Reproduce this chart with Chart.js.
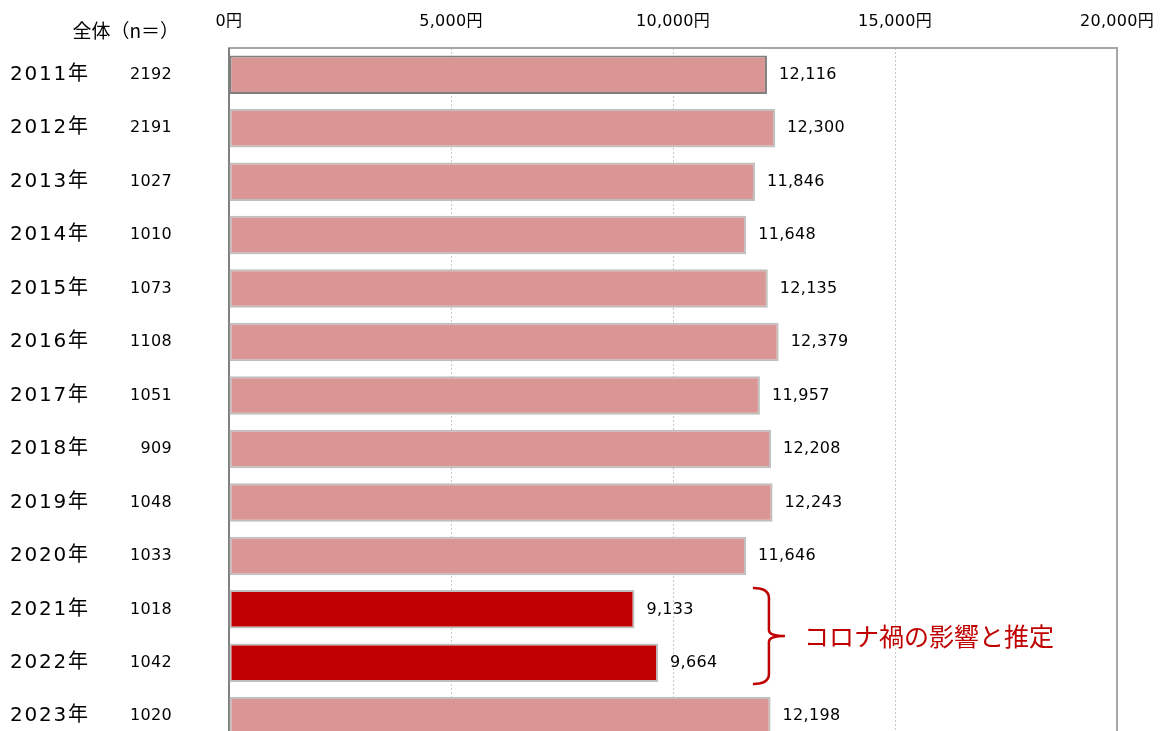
<!DOCTYPE html>
<html lang="ja">
<head>
<meta charset="utf-8">
<script src="https://cdn.jsdelivr.net/npm/chart.js@4/dist/chart.umd.min.js"></script>
<style>
  html, body { margin: 0; padding: 0; background: #fff; overflow: hidden; }
  #wrap { width: 1170px; height: 760px; }
</style>
</head>
<body>
<div id="wrap"><canvas id="chart" width="1170" height="760"></canvas></div>
<script>
const years = ["2011年","2012年","2013年","2014年","2015年","2016年","2017年","2018年","2019年","2020年","2021年","2022年","2023年"];
const counts = [2192, 2191, 1027, 1010, 1073, 1108, 1051, 909, 1048, 1033, 1018, 1042, 1020];
const amounts = [12116, 12300, 11846, 11648, 12135, 12379, 11957, 12208, 12243, 11646, 9133, 9664, 12198];
const covidYears = ["2021年", "2022年"];
const headerText = "全体（n＝）";
const noteText = "コロナ禍の影響と推定";

const FONT = "'DejaVu Sans', 'Noto Sans CJK JP', sans-serif";
const JP = "'Noto Sans CJK JP', sans-serif";
const PINK = "#d99694";
const RED = "#c00000";

const fills = years.map(y => covidYears.includes(y) ? RED : PINK);
const borders = years.map((y, i) => i === 0 ? "#7f7f7f" : "#bfbfbf");

const frame = {
  id: "frame",
  beforeDraw(chart) {
    // slightly wider digit spacing, as in the original
    chart.ctx.letterSpacing = "0.3px";
  },
  beforeDatasetsDraw(chart) {
    const { ctx, chartArea: a } = chart;
    ctx.save();
    ctx.strokeStyle = "#a6a6a6";
    ctx.lineWidth = 2;
    ctx.beginPath();
    ctx.moveTo(a.left, a.bottom);
    ctx.lineTo(a.left, a.top);
    ctx.lineTo(a.right, a.top);
    ctx.lineTo(a.right, a.bottom);
    ctx.stroke();
    ctx.strokeStyle = "#7f7f7f";
    ctx.beginPath();
    ctx.moveTo(a.left, a.top);
    ctx.lineTo(a.left, a.bottom);
    ctx.stroke();
    ctx.restore();
  }
};

const labels = {
  id: "labels",
  afterDatasetsDraw(chart) {
    const { ctx } = chart;
    const bars = chart.getDatasetMeta(0).data;
    ctx.save();
    ctx.fillStyle = "#000";
    ctx.textBaseline = "middle";

    // header
    ctx.letterSpacing = "0px";
    ctx.font = "19px " + JP;
    ctx.textAlign = "right";
    ctx.fillText(headerText, 179, 31);

    bars.forEach((bar, i) => {
      ctx.font = "20px " + FONT;
      ctx.letterSpacing = "1.8px";
      ctx.textAlign = "left";
      ctx.fillText(years[i], 10, bar.y);
      ctx.font = "16px " + FONT;
      ctx.letterSpacing = "0.3px";
      ctx.textAlign = "right";
      ctx.fillText(String(counts[i]), 172, bar.y);
      ctx.textAlign = "left";
      ctx.fillText(amounts[i].toLocaleString("en-US"), bar.x + 12, bar.y);
    });

    // bracket + note for covid years
    const i0 = years.indexOf(covidYears[0]);
    const i1 = years.indexOf(covidYears[covidYears.length - 1]);
    const b0 = bars[i0], b1 = bars[i1];
    const top = b0.y - b0.height / 2 - 2;
    const bot = b1.y + b1.height / 2 + 2;
    const mid = (top + bot) / 2;
    const x0 = chart.scales.x.getPixelForValue(11800);
    const xv = x0 + 16;
    ctx.strokeStyle = RED;
    ctx.lineWidth = 2.5;
    ctx.beginPath();
    ctx.moveTo(x0, top);
    ctx.quadraticCurveTo(xv, top, xv, top + 10);
    ctx.lineTo(xv, mid - 6);
    ctx.quadraticCurveTo(xv, mid, xv + 16, mid);
    ctx.moveTo(xv, mid + 6);
    ctx.quadraticCurveTo(xv, mid, xv + 16, mid);
    ctx.moveTo(xv, mid + 6);
    ctx.lineTo(xv, bot - 10);
    ctx.quadraticCurveTo(xv, bot, x0, bot);
    ctx.stroke();

    ctx.fillStyle = RED;
    ctx.letterSpacing = "0px";
    ctx.font = "25px " + JP;
    ctx.textAlign = "left";
    ctx.fillText(noteText, xv + 35, mid);
    ctx.restore();
  }
};

new Chart(document.getElementById("chart").getContext("2d"), {
  type: "bar",
  data: {
    labels: years,
    datasets: [{
      data: amounts,
      backgroundColor: fills,
      borderColor: borders,
      borderWidth: 2,
      borderSkipped: false,
      barPercentage: 0.72,
      categoryPercentage: 1
    }]
  },
  options: {
    indexAxis: "y",
    responsive: false,
    animation: false,
    layout: { padding: { left: 229, right: 52, top: 0, bottom: 17 } },
    plugins: { legend: { display: false }, tooltip: { enabled: false } },
    scales: {
      x: {
        position: "top",
        min: 0,
        max: 20000,
        afterFit(scale) { scale.height = 48; },
        ticks: {
          stepSize: 5000,
          padding: 17,
          color: "#000",
          font: { family: FONT, size: 16 },
          callback: v => v.toLocaleString("en-US") + "円"
        },
        grid: {
          drawTicks: false,
          color: ctx => (ctx.tick && (ctx.tick.value === 0 || ctx.tick.value === 20000)) ? "rgba(0,0,0,0)" : "#c8c8c8",
          lineWidth: 1
        },
        border: { display: false, dash: [2, 2] }
      },
      y: {
        display: false,
        grid: { display: false }
      }
    }
  },
  plugins: [frame, labels]
});
</script>
</body>
</html>
